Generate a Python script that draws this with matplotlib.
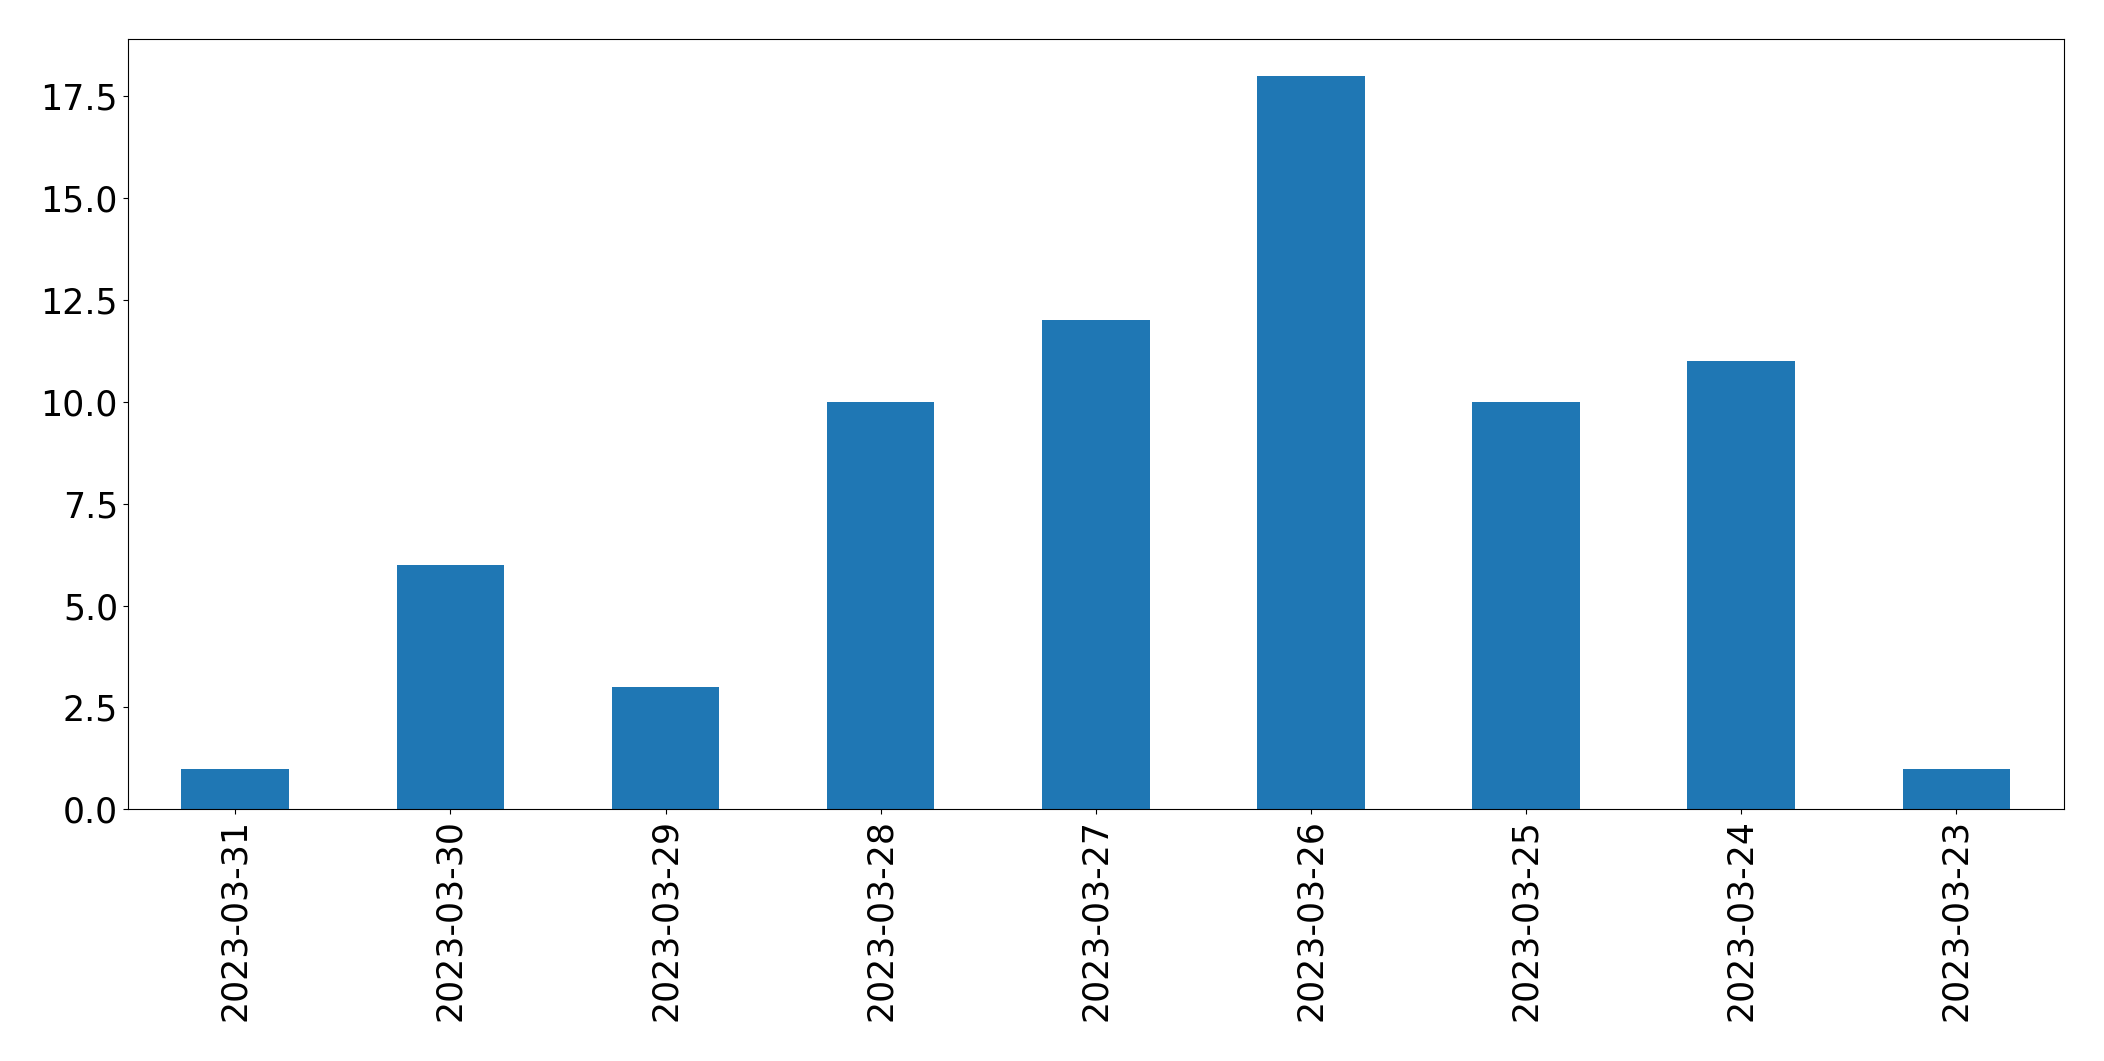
import matplotlib
matplotlib.use("Agg")
import matplotlib.pyplot as plt
import pandas as pd

dates = ["2023-03-31", "2023-03-30", "2023-03-29", "2023-03-28", "2023-03-27",
         "2023-03-26", "2023-03-25", "2023-03-24", "2023-03-23"]
counts = [1, 6, 3, 10, 12, 18, 10, 11, 1]

fig = plt.figure(figsize=(21.04, 10.61), dpi=100)
ax = fig.add_axes([127.7 / 2104, 1 - 809.3 / 1061, (2064 - 127.7) / 2104, (809.3 - 39.3) / 1061])
s = pd.Series(counts, index=dates)
s.plot(kind="bar", ax=ax, color="#1f77b4", fontsize=25)
ax.tick_params(axis="both", labelsize=25)
fig.savefig("out.png", dpi=100)
